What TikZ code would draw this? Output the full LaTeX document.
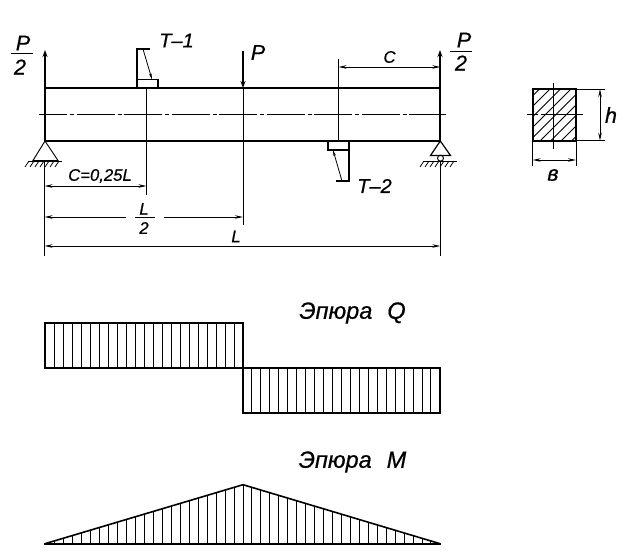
\documentclass[tikz,border=0pt]{standalone}
\usepackage{fontspec}
\setmainfont{Liberation Sans}[ItalicFeatures={FakeBold=0.6}]
\usetikzlibrary{arrows.meta}
\tikzset{
  x=1pt,y=-1pt,
  thick line/.style={line width=2pt,line cap=butt},
  thin line/.style={line width=0.95pt},
  hatch/.style={line width=0.8pt},
  axis line/.style={line width=0.95pt,dash pattern=on 38pt off 3pt on 4pt off 2.5pt,dash phase=10pt},
  dim/.style={line width=0.95pt,{Stealth[length=8pt,width=3.5pt]}-{Stealth[length=8pt,width=3.5pt]}},
  dimL/.style={line width=0.95pt,{Stealth[length=8pt,width=3.5pt]}-},
  dimR/.style={line width=0.95pt,-{Stealth[length=8pt,width=3.5pt]}},
  force/.style={line width=1.5pt,-{Stealth[length=7pt,width=5pt]}},
  leader/.style={line width=0.8pt,-{Stealth[length=6pt,width=2.5pt]}},
  big/.style={inner sep=0pt,font=\fontsize{21.5}{21.5}\selectfont\itshape},
  tag/.style={inner sep=0pt,font=\fontsize{20}{20}\selectfont\itshape},
  mid/.style={inner sep=0pt,font=\fontsize{16.7}{16.7}\selectfont\itshape},
  title/.style={inner sep=0pt,font=\fontsize{23.5}{23.5}\selectfont\itshape},
}
\begin{document}
\begin{tikzpicture}
\useasboundingbox (0,0) rectangle (630,559);
\fill[white] (0,0) rectangle (630,559);
% beam
\coordinate (bTL) at (45,88.5); \coordinate (bTR) at (440,88.5);
\coordinate (bBL) at (45,141); \coordinate (bBR) at (440,141);
\draw[axis line] (39,114) -- (446,114);
\draw[thick line] (bTL) -- (bTR) -- (bBR) -- (bBL) -- cycle;
% reactions and force
\coordinate (rL) at (45,50); \coordinate (rR) at (440,50);
\coordinate (pT) at (243,51); \coordinate (pB) at (243,88);
\draw[force] (bTL) -- (rL);
\draw[force] (bTR) -- (rR);
\draw[force] (pT) -- (pB);
% extension lines
\draw[thin line] (243,88) -- (243,225);
\draw[thin line] (146.5,88) -- (146.5,195);
\draw[thin line] (338.5,141) -- (338.5,59);
\draw[thin line] (44.5,161) -- (44.5,256);
\draw[thin line] (440.3,161) -- (440.3,256);
% T-1
\draw[line width=1.5pt] (150,49) -- (137,49) -- (137,88);
\draw[line width=1.5pt] (137,79.5) rectangle (158,88);
\draw[leader] (143,49) -- (152,79.5);
% T-2
\draw[line width=1.5pt] (328,141) rectangle (349,150);
\draw[line width=1.5pt] (349,150) -- (349,181) -- (336,181);
\draw[leader] (342,181) -- (333,150);
% left support
\draw[thin line] (45,141) -- (33,160.5) -- (58,160.5) -- cycle;
\draw[thin line] (28,161) -- (62,161);
\foreach \i in {0,...,6} \draw[hatch] ({29+5*\i},161) -- ({25+5*\i},167);
% right support
\draw[line width=1.2pt] (440.3,141) -- (430.5,155.5) -- (450.5,155.5) -- cycle;
\draw[thin line] (440.5,158.2) circle (3);
\draw[thin line] (423,161) -- (457,161);
\foreach \i in {0,...,6} \draw[hatch] ({424+5*\i},161) -- ({420+5*\i},167);
% dimensions
\draw[dim] (44.5,186) -- (146.5,186);
\draw[dimL] (44.5,217) -- (126,217);
\draw[dimR] (164,217) -- (243,217);
\draw[dim] (44.5,246) -- (440.3,246);
\draw[dim] (338.5,67) -- (440.3,67);
% fraction bars
\draw[thin line] (11,53) -- (33,53);
\draw[thin line] (450,51) -- (472,51);
\draw[thin line] (135,217) -- (155,217);
% labels
\node[big] (p2La) at (23,43) {P};
\node[big] (p2Lb) at (20,67) {2};
\node[big] (p2Ra) at (464,40) {P};
\node[big] (p2Rb) at (461,63) {2};
\node[big] (pLab) at (258,52.5) {P};
\node[tag] (t1) at (176.5,40.5) {T–1};
\node[tag] (t2) at (374.5,186) {T–2};
\node[mid] (cLab) at (389.5,57) {C};
\node[mid] (c25) at (100,176) {C=0,25L};
\node[mid] (lHalfA) at (144,209) {L};
\node[mid] (lHalfB) at (144,228) {2};
\node[mid] (lLab) at (236,236.5) {L};
% section
\begin{scope}
\clip (532.7,89) rectangle (576,140.7);
\foreach \i in {0,...,9} \draw[hatch] ({473+10.5*\i},145) -- ({533+10.5*\i},85);
\end{scope}
\draw[thin line] (527,114) -- (538,114);
\draw[thin line] (541,114) -- (583,114);
\draw[thin line] (553.5,83) -- (553.5,149);
\draw[thick line] (532.7,89) rectangle (576,140.7);
\draw[thin line] (576,89) -- (605,89);
\draw[thin line] (576,140.7) -- (605,140.7);
\draw[thin line] (532.7,140.7) -- (532.7,166);
\draw[thin line] (576,140.7) -- (576,166);
\draw[dim] (600,89) -- (600,140.7);
\draw[dim] (532.7,160) -- (576,160);
\node[big] (hLab) at (611,115) {h};
\node[big] (bLab) at (553,175) {в};
% epure Q
\node[title] (qT) at (352.5,313) {Эпюра\hspace{15pt}Q};
\foreach \i in {1,...,21} \draw[thin line] ({45+9*\i},323) -- ({45+9*\i},368);
\foreach \i in {1,...,21} \draw[thin line] ({243+8.95*\i},368) -- ({243+8.95*\i},412.7);
\draw[line width=1.6pt] (45,323) rectangle (243,368);
\draw[line width=1.6pt] (243,368) rectangle (440,412.7);
% epure M
\node[title] (mT) at (352.5,462) {Эпюра\hspace{15pt}M};
\foreach \i in {1,...,21} \draw[thin line] ({45+9*\i},543.7) -- ({45+9*\i},{543.7-59*\i/22});
\draw[thin line] (243,543.7) -- (243,484.7);
\foreach \i in {1,...,21} \draw[thin line] ({243+8.95*\i},543.7) -- ({243+8.95*\i},{484.7+59*\i/22});
\draw[line width=1.6pt] (44,543.7) -- (441,543.7);
\draw[line width=1.6pt] (45,543.7) -- (243,484.7) -- (440,543.7);
\end{tikzpicture}
\end{document}
